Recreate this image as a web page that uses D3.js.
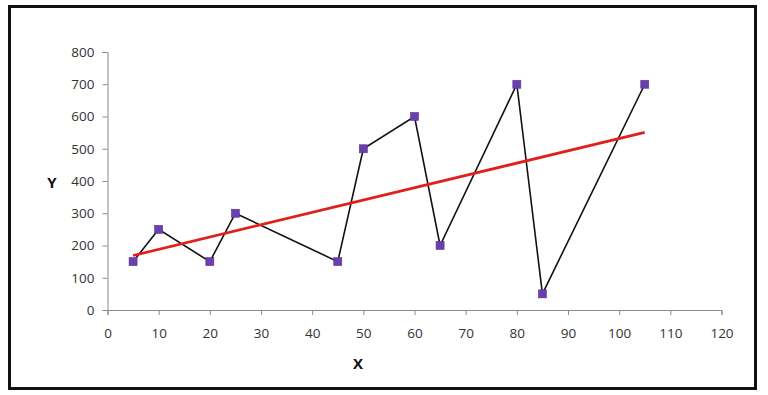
<!DOCTYPE html>
<html><head><meta charset="utf-8">
<script src="https://cdn.jsdelivr.net/npm/d3@7"></script>
<style>
html,body{margin:0;padding:0;background:#fff;}
svg{display:block;}
svg text{font-family:"Open Sans","Liberation Sans",sans-serif;}
</style></head>
<body><svg id="c" width="768" height="395"></svg>
<script>
const xValues = [5, 10, 20, 25, 45, 50, 60, 65, 80, 85, 105];
const yValues = [150, 250, 150, 300, 150, 500, 600, 200, 700, 50, 700];
const trendX = [5, 105];
const trendY = [169, 551];
const xTicks = [0, 10, 20, 30, 40, 50, 60, 70, 80, 90, 100, 110, 120];
const yTicks = [0, 100, 200, 300, 400, 500, 600, 700, 800];

const svg = d3.select("#c");
svg.append("rect").attr("x", 9.5).attr("y", 6.5).attr("width", 746).attr("height", 382)
  .attr("fill", "#fff").attr("stroke", "#111").attr("stroke-width", 3);

const x = d3.scaleLinear().domain([0, 120]).range([107.5, 721.5]);
const y = d3.scaleLinear().domain([0, 800]).range([310, 52]);

const axisColor = "#8a8a8a", textColor = "#333";

const gx = svg.append("g").attr("transform", "translate(0,310)")
  .call(d3.axisBottom(x).tickValues(xTicks).tickSize(5).tickPadding(13).tickFormat(d3.format("d")));
const gy = svg.append("g").attr("transform", "translate(107.5,0)")
  .call(d3.axisLeft(y).tickValues(yTicks).tickSize(5).tickPadding(8).tickFormat(d3.format("d")));
[gx, gy].forEach(g => {
  g.attr("font-family", null).attr("font-size", null);
  g.select(".domain").attr("stroke", axisColor);
  g.selectAll(".tick line").attr("stroke", axisColor);
  g.selectAll(".tick text").attr("fill", textColor).style("font-size", "13.5px");
});

const pts = xValues.map((v, i) => [v, yValues[i]]);
svg.append("path").datum(pts)
  .attr("fill", "none").attr("stroke", "#111").attr("stroke-width", 1.6)
  .attr("d", d3.line().x(d => x(d[0])).y(d => y(d[1])));

svg.append("path").datum(trendX.map((v, i) => [v, trendY[i]]))
  .attr("fill", "none").attr("stroke", "#e0201c").attr("stroke-width", 2.8)
  .attr("d", d3.line().x(d => x(d[0])).y(d => y(d[1])));

svg.selectAll("rect.m").data(pts).enter().append("rect").attr("class", "m")
  .attr("x", d => x(d[0]) - 4).attr("y", d => y(d[1]) - 4)
  .attr("width", 8).attr("height", 8)
  .attr("fill", "#6a3fae").attr("stroke", "#5a3398").attr("stroke-width", 0.6);

svg.append("text").attr("x", 52).attr("y", 188).attr("text-anchor", "middle")
  .attr("font-weight", "bold").attr("font-size", 15).attr("fill", "#111").text("Y");
svg.append("text").attr("x", 358).attr("y", 369).attr("text-anchor", "middle")
  .attr("font-weight", "bold").attr("font-size", 15).attr("fill", "#111").text("X");
</script></body></html>
